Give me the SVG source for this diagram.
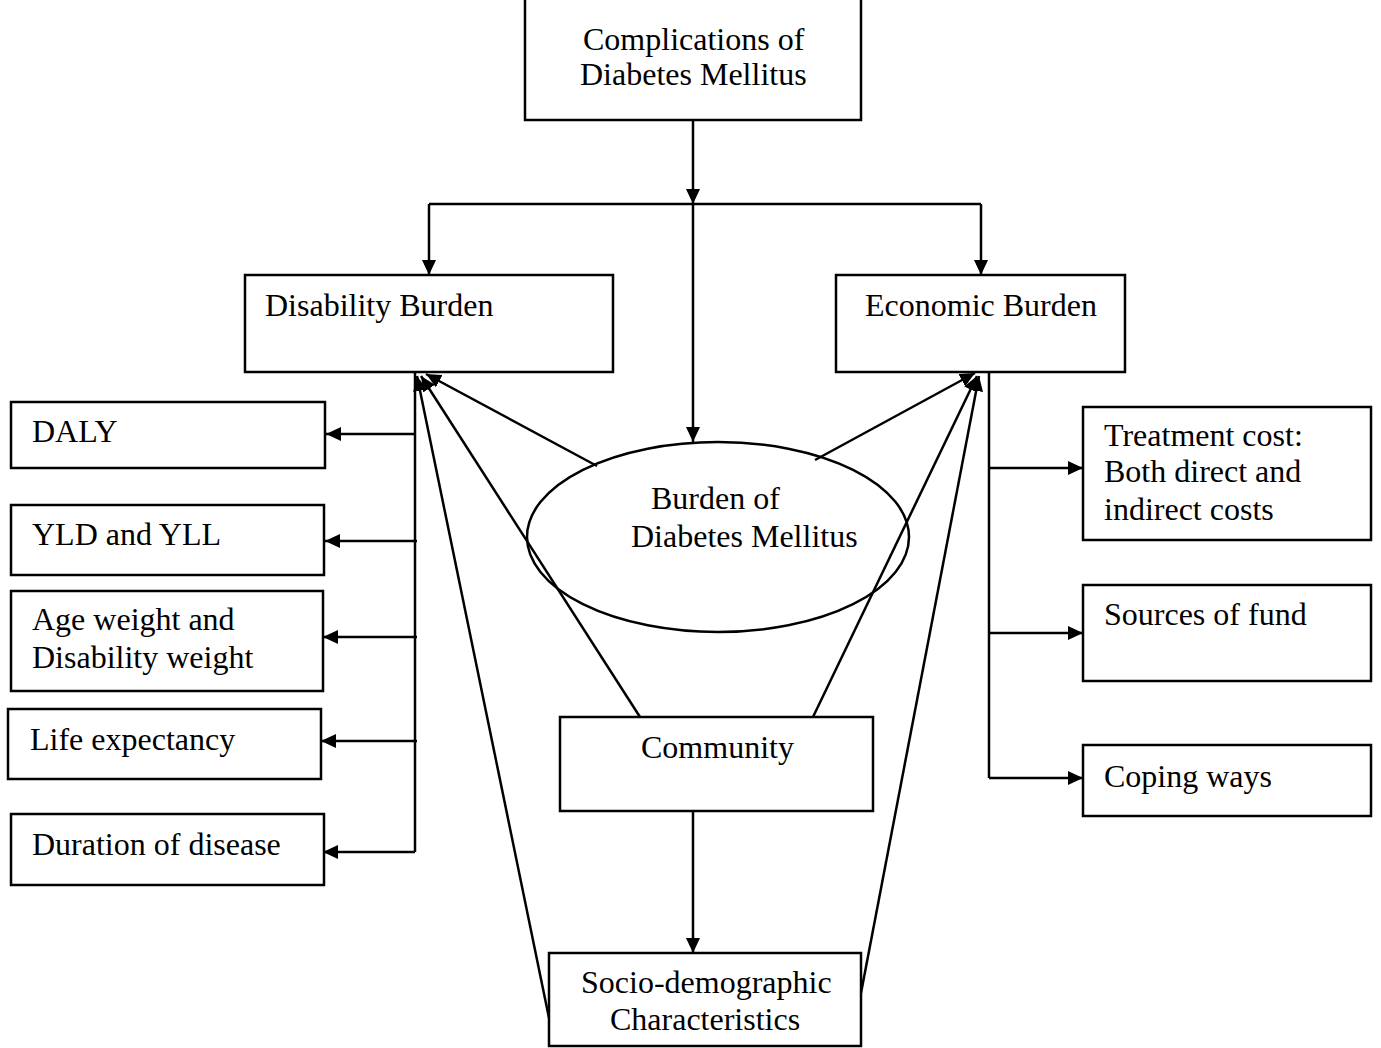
<svg xmlns="http://www.w3.org/2000/svg" width="1381" height="1048" viewBox="0 0 1381 1048">
<style>
.box{fill:#fff;stroke:#000;stroke-width:2.5}
.t{font-family:"Liberation Serif","Times New Roman",serif;font-size:32px;fill:#000}
.c{fill:none;stroke:#000;stroke-width:2.5}
</style>
<defs>
<marker id="ah" viewBox="0 0 15 14" refX="15" refY="7" markerWidth="15" markerHeight="14" markerUnits="userSpaceOnUse" orient="auto">
<path d="M0,0 L15,7 L0,14 Z" fill="#000"/>
</marker>
</defs>
<rect width="1381" height="1048" fill="#fff"/>
<g id="connectors">
<path class="c" d="M693,120 V204" marker-end="url(#ah)"/>
<path class="c" d="M429,204 H981"/>
<path class="c" d="M429,204 V275" marker-end="url(#ah)"/>
<path class="c" d="M981,204 V275" marker-end="url(#ah)"/>
<path class="c" d="M693,204 V442" marker-end="url(#ah)"/>
<path class="c" d="M415,372 V852"/>
<path class="c" d="M415,434 H326" marker-end="url(#ah)"/>
<path class="c" d="M417,541 H325" marker-end="url(#ah)"/>
<path class="c" d="M417,637 H323" marker-end="url(#ah)"/>
<path class="c" d="M417,741 H321" marker-end="url(#ah)"/>
<path class="c" d="M415,852 H323" marker-end="url(#ah)"/>
<path class="c" d="M989,372 V778"/>
<path class="c" d="M989,468 H1083" marker-end="url(#ah)"/>
<path class="c" d="M989,633 H1083" marker-end="url(#ah)"/>
<path class="c" d="M989,778 H1083" marker-end="url(#ah)"/>
<path class="c" d="M597,466 L426,374" marker-end="url(#ah)"/>
<path class="c" d="M640,717 L421,376" marker-end="url(#ah)"/>
<path class="c" d="M549,1018 L417,376" marker-end="url(#ah)"/>
<path class="c" d="M815,460 L975,373" marker-end="url(#ah)"/>
<path class="c" d="M813,717 L977,376" marker-end="url(#ah)"/>
<path class="c" d="M861,993 L979,376" marker-end="url(#ah)"/>
<path class="c" d="M693,811 V953" marker-end="url(#ah)"/>
</g>
<g id="complications">
<rect class="box" x="525" y="-2" width="336" height="122"/>
<text class="t" x="583" y="50">Complications of</text>
<text class="t" x="580" y="85">Diabetes Mellitus</text>
</g>
<g id="disability">
<rect class="box" x="245" y="275" width="368" height="97"/>
<text class="t" x="265" y="316">Disability Burden</text>
</g>
<g id="economic">
<rect class="box" x="836" y="275" width="289" height="97"/>
<text class="t" x="865" y="316">Economic Burden</text>
</g>
<g id="burden">
<ellipse cx="718" cy="537" rx="191" ry="95" fill="none" stroke="#000" stroke-width="2.5"/>
<text class="t" x="651" y="509">Burden of</text>
<text class="t" x="631" y="547">Diabetes Mellitus</text>
</g>
<g id="daly">
<rect class="box" x="11" y="402" width="314" height="66"/>
<text class="t" x="32" y="442">DALY</text>
</g>
<g id="yld">
<rect class="box" x="11" y="505" width="313" height="70"/>
<text class="t" x="32" y="545">YLD and YLL</text>
</g>
<g id="age">
<rect class="box" x="11" y="591" width="312" height="100"/>
<text class="t" x="32" y="630">Age weight and</text>
<text class="t" x="32" y="668">Disability weight</text>
</g>
<g id="life">
<rect class="box" x="8" y="709" width="313" height="70"/>
<text class="t" x="30" y="750">Life expectancy</text>
</g>
<g id="duration">
<rect class="box" x="11" y="814" width="313" height="71"/>
<text class="t" x="32" y="855">Duration of disease</text>
</g>
<g id="treatment">
<rect class="box" x="1083" y="407" width="288" height="133"/>
<text class="t" x="1104" y="446">Treatment cost:</text>
<text class="t" x="1104" y="482">Both direct and</text>
<text class="t" x="1104" y="520">indirect costs</text>
</g>
<g id="sources">
<rect class="box" x="1083" y="585" width="288" height="96"/>
<text class="t" x="1104" y="625">Sources of fund</text>
</g>
<g id="coping">
<rect class="box" x="1083" y="745" width="288" height="71"/>
<text class="t" x="1104" y="787">Coping ways</text>
</g>
<g id="community">
<rect class="box" x="560" y="717" width="313" height="94"/>
<text class="t" x="641" y="758">Community</text>
</g>
<g id="socio">
<rect class="box" x="549" y="953" width="312" height="93"/>
<text class="t" x="581" y="993">Socio-demographic</text>
<text class="t" x="610" y="1030">Characteristics</text>
</g>
</svg>
